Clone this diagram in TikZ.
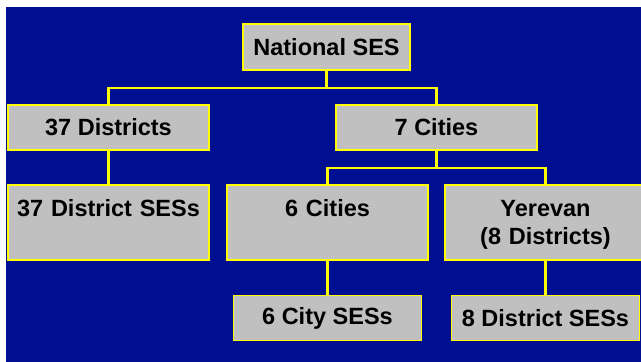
\documentclass[tikz,border=0pt]{standalone}
\usepackage{fontspec}
\setmainfont{Liberation Sans}
\definecolor{bgblue}{RGB}{0,15,145}
\definecolor{boxgray}{RGB}{192,192,192}
\definecolor{lineyellow}{RGB}{255,255,0}
\tikzset{
  orgbox/.style={draw=lineyellow, line width=1.6pt, fill=boxgray, text=black,
    font=\bfseries\fontsize{23.5}{28}\selectfont},
  shortbox/.style={orgbox, minimum width=201pt, minimum height=45pt, inner sep=0pt},
  tallbox/.style={orgbox, text width=201pt, align=center, inner xsep=0pt,
    inner ysep=4pt, text height=27pt, text depth=40pt},
  leafbox/.style={shortbox, minimum width=188pt},
  link/.style={draw=lineyellow, line width=2.4pt}
}
\begin{document}
\begin{tikzpicture}[x=1pt, y=-1pt]
  \useasboundingbox (0,0) rectangle (641,362);
  \fill[bgblue] (6,7) rectangle (641,362);

  \node[shortbox, minimum width=167pt, minimum height=46pt] (national) at (326.5,47) {National SES};
  \node[shortbox] (districts) at (108.5,127.5) {37 Districts};
  \node[shortbox] (cities) at (436.5,127.5) {7 Cities};
  \node[tallbox] (districtses) at (108.5,222.5) {37 District SESs};
  \node[tallbox] (sixcities) at (327.5,222.5) {6 Cities};
  \node[tallbox] (yerevan) at (545.5,222.5) {Yerevan\\(8 Districts)};
  \node[leafbox] (cityses) at (327.5,318) {6 City SESs};
  \node[leafbox] (yerevanses) at (545.5,318) {8 District SESs};

  \draw[link] (national.south) -- ++(0,17) coordinate (topbus);
  \draw[link] (districts.north) |- (topbus) -| (cities.north);
  \draw[link] (cities.south) -- ++(0,17) coordinate (midbus);
  \draw[link] (sixcities.north) |- (midbus) -| (yerevan.north);
  \draw[link] (districts.south) -- (districtses.north);
  \draw[link] (sixcities.south) -- (cityses.north);
  \draw[link] (yerevan.south) -- (yerevanses.north);
\end{tikzpicture}
\end{document}
